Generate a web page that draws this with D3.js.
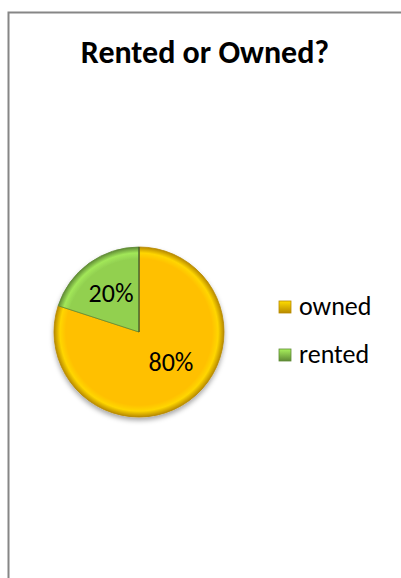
<!DOCTYPE html>
<html>
<head>
<meta charset="utf-8">
<script src="https://cdn.jsdelivr.net/npm/d3@7"></script>
<style>
  body { margin: 0; background: #fff; }
  text { font-family: Carlito, Calibri, "Open Sans", sans-serif; }
</style>
</head>
<body>
<div id="chart"></div>
<script>
var categories = ["owned", "rented"];
var values = [80, 20];
var colors = ["#FFC000", "#92D050"];
var edgeColors = ["#B88A00", "#5F8A35"];

var svg = d3.select("#chart")
  .append("svg")
  .attr("width", 401).attr("height", 578);

var defs = svg.append("defs");

var radius = 85;

// bevel-ish gradient per slice
categories.forEach(function(c, i) {
  var g = defs.append("radialGradient")
    .attr("id", "grad" + i)
    .attr("gradientUnits", "userSpaceOnUse")
    .attr("cx", 0).attr("cy", 0).attr("r", radius);
  g.append("stop").attr("offset", "0%").attr("stop-color", colors[i]);
  g.append("stop").attr("offset", "86%").attr("stop-color", colors[i]);
  g.append("stop").attr("offset", "93%").attr("stop-color", d3.color(colors[i]).brighter(0.3));
  g.append("stop").attr("offset", "100%").attr("stop-color", edgeColors[i]);

  var lg = defs.append("linearGradient")
    .attr("id", "leg" + i)
    .attr("x1", 0).attr("y1", 0).attr("x2", 0).attr("y2", 1);
  lg.append("stop").attr("offset", "0%").attr("stop-color", d3.color(colors[i]).brighter(0.4));
  lg.append("stop").attr("offset", "100%").attr("stop-color", edgeColors[i]);
});

var shadow = defs.append("filter").attr("id", "shadow")
  .attr("x", "-20%").attr("y", "-20%").attr("width", "140%").attr("height", "140%");
shadow.append("feDropShadow")
  .attr("dx", 0).attr("dy", 3).attr("stdDeviation", 2.5)
  .attr("flood-color", "#000").attr("flood-opacity", 0.35);

// chart frame
svg.append("path")
  .attr("d", "M8.5,578 V12.5 H401")
  .attr("fill", "none")
  .attr("stroke", "#868686")
  .attr("stroke-width", 2);

// title
svg.append("text")
  .attr("x", 205).attr("y", 63)
  .attr("text-anchor", "middle")
  .attr("font-size", 32)
  .attr("font-weight", "bold")
  .text("Rented or Owned?");

// pie (clockwise from 12 o'clock, like Excel)
var pie = d3.pie().sort(null);
var arcs = pie(values);
var arc = d3.arc().innerRadius(0).outerRadius(radius);
var labelArc = d3.arc().innerRadius(radius * 0.56).outerRadius(radius * 0.56);

var g = svg.append("g")
  .attr("transform", "translate(139,332)");

g.append("g").attr("filter", "url(#shadow)")
  .selectAll("path")
  .data(arcs)
  .enter()
  .append("path")
  .attr("d", arc)
  .attr("fill", function(d, i) { return "url(#grad" + i + ")"; })
  .attr("stroke", function(d, i) { return edgeColors[i]; })
  .attr("stroke-width", 0.8);

// dark divider on the vertical edge
g.append("line")
  .attr("x1", 0).attr("y1", -radius)
  .attr("x2", 0).attr("y2", 0)
  .attr("stroke", "#3d4a2c")
  .attr("stroke-width", 1);

g.selectAll("text")
  .data(arcs)
  .enter()
  .append("text")
  .attr("transform", function(d, i) {
    var p = labelArc.centroid(d);
    // Excel best-fit nudges the large slice's label up a bit
    if (i === 0) { p[0] += 4; p[1] -= 8; }
    return "translate(" + p[0] + "," + p[1] + ")";
  })
  .attr("text-anchor", "middle")
  .attr("dy", "0.33em")
  .attr("font-size", 26)
  .text(function(d) { return d.data + "%"; });

// legend
var legend = svg.append("g")
  .attr("transform", "translate(279,301)");

var item = legend.selectAll("g")
  .data(categories)
  .enter()
  .append("g")
  .attr("transform", function(d, i) { return "translate(0," + (i * 48) + ")"; });

item.append("rect")
  .attr("width", 12).attr("height", 12)
  .attr("fill", function(d, i) { return "url(#leg" + i + ")"; })
  .attr("stroke", function(d, i) { return edgeColors[i]; })
  .attr("stroke-width", 0.8);

item.append("text")
  .attr("x", 20).attr("y", 14)
  .attr("font-size", 26)
  .text(function(d) { return d; });
</script>
</body>
</html>
